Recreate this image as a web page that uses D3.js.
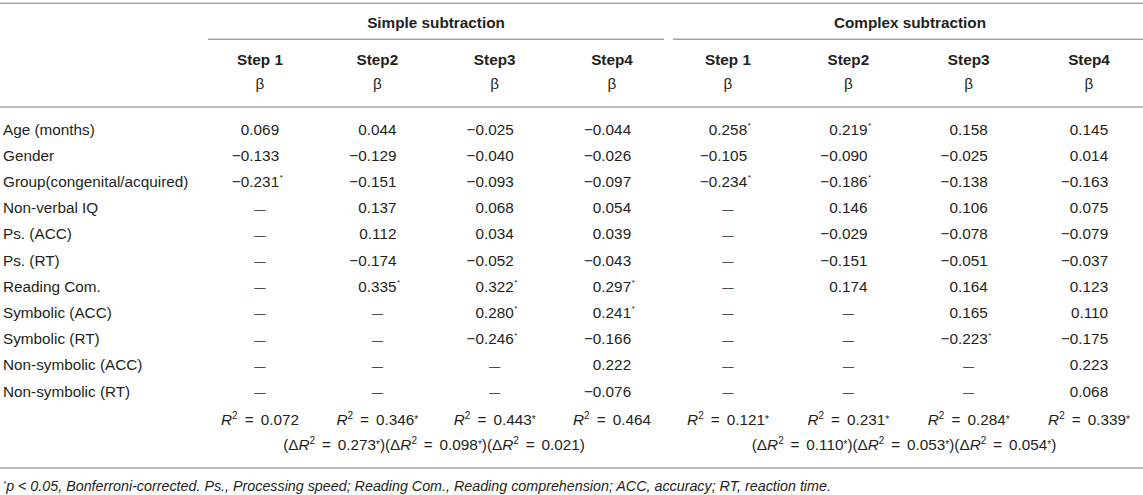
<!DOCTYPE html>
<html>
<head>
<meta charset="utf-8">
<script src="https://cdn.jsdelivr.net/npm/d3@7"></script>
<style>
  html, body { margin: 0; padding: 0; background: #fff; }
  svg { display: block; }
  text { font-family: "Liberation Sans", Arial, Helvetica, sans-serif; fill: #231f20; }
</style>
</head>
<body>
<svg id="t" width="1143" height="495"></svg>
<script>
// ---------- data ----------
const groups = ["Simple subtraction", "Complex subtraction"];
const steps = ["Step 1", "Step2", "Step3", "Step4"];
const coefLabel = "β";
const rowLabels = [
  "Age (months)", "Gender", "Group(congenital/acquired)", "Non-verbal IQ",
  "Ps. (ACC)", "Ps. (RT)", "Reading Com.", "Symbolic (ACC)", "Symbolic (RT)",
  "Non-symbolic (ACC)", "Non-symbolic (RT)"
];
// null = not entered in that step (—)
const simpleBeta = [
  [0.069, 0.044, -0.025, -0.044],
  [-0.133, -0.129, -0.040, -0.026],
  [-0.231, -0.151, -0.093, -0.097],
  [null, 0.137, 0.068, 0.054],
  [null, 0.112, 0.034, 0.039],
  [null, -0.174, -0.052, -0.043],
  [null, 0.335, 0.322, 0.297],
  [null, null, 0.280, 0.241],
  [null, null, -0.246, -0.166],
  [null, null, null, 0.222],
  [null, null, null, -0.076]
];
const simpleSig = [
  [0,0,0,0],[0,0,0,0],[1,0,0,0],[0,0,0,0],[0,0,0,0],[0,0,0,0],
  [0,1,1,1],[0,0,1,1],[0,0,1,0],[0,0,0,0],[0,0,0,0]
];
const complexBeta = [
  [0.258, 0.219, 0.158, 0.145],
  [-0.105, -0.090, -0.025, 0.014],
  [-0.234, -0.186, -0.138, -0.163],
  [null, 0.146, 0.106, 0.075],
  [null, -0.029, -0.078, -0.079],
  [null, -0.151, -0.051, -0.037],
  [null, 0.174, 0.164, 0.123],
  [null, null, 0.165, 0.110],
  [null, null, -0.223, -0.175],
  [null, null, null, 0.223],
  [null, null, null, 0.068]
];
const complexSig = [
  [1,1,0,0],[0,0,0,0],[1,1,0,0],[0,0,0,0],[0,0,0,0],[0,0,0,0],
  [0,0,0,0],[0,0,0,0],[0,0,1,0],[0,0,0,0],[0,0,0,0]
];
const simpleR2 = [0.072, 0.346, 0.443, 0.464];
const simpleR2Sig = [0, 1, 1, 0];
const complexR2 = [0.121, 0.231, 0.284, 0.339];
const complexR2Sig = [1, 1, 1, 1];
const simpleDeltaR2 = [0.273, 0.098, 0.021];
const simpleDeltaSig = [1, 1, 0];
const complexDeltaR2 = [0.110, 0.053, 0.054];
const complexDeltaSig = [1, 1, 1];
const footnote = ", Bonferroni-corrected. Ps., Processing speed; Reading Com., Reading comprehension; ACC, accuracy; RT, reaction time.";

// ---------- layout ----------
const W = 1143, H = 495;
const FS = 15.3;
const svg = d3.select("#t");
const fmt = v => (v < 0 ? "\u2212" : "") + d3.format(".3f")(Math.abs(v));

const xSimple = d3.scalePoint().domain(steps).range([260, 612]);
const xComplex = d3.scalePoint().domain(steps).range([728, 1089]);
const xs = [xSimple, xComplex];
const groupSpan = [[208, 664], [673, W]];
const groupCenter = [436, 910];
const deltaCenter = [434, 904];

const allRows = rowLabels.concat(["R2", "dR2"]);
const y = d3.scalePoint().domain(allRows).range([134.5, 134.5 + 12 * 26.2]);

const lineColor = "#a3a3a3";
function hline(x1, x2, yy) {
  svg.append("line").attr("x1", x1).attr("x2", x2).attr("y1", yy).attr("y2", yy)
    .attr("stroke", lineColor).attr("stroke-width", 1.6);
}
hline(0, W, 3.3);
hline(0, W, 107);
hline(0, W, 468);
groupSpan.forEach(s => hline(s[0], s[1], 39.3));

// group headers
groups.forEach((g, i) => {
  svg.append("text").attr("x", groupCenter[i]).attr("y", 28)
    .attr("text-anchor", "middle").attr("font-size", FS).attr("font-weight", "bold").text(g);
  steps.forEach(s => {
    svg.append("text").attr("x", xs[i](s)).attr("y", 64.5)
      .attr("text-anchor", "middle").attr("font-size", FS).attr("font-weight", "bold").text(s);
    svg.append("text").attr("x", xs[i](s)).attr("y", 89)
      .attr("text-anchor", "middle").attr("font-size", FS).text(coefLabel);
  });
});

// row labels
rowLabels.forEach(r => {
  svg.append("text").attr("x", 3).attr("y", y(r)).attr("font-size", FS).text(r);
});

// measure half width of a positive value
const tmp = svg.append("text").attr("font-size", FS).text("0.000");
const hw = tmp.node().getComputedTextLength() / 2;
tmp.remove();

const betas = [simpleBeta, complexBeta];
const sigs = [simpleSig, complexSig];
betas.forEach((tbl, gi) => {
  tbl.forEach((row, ri) => {
    row.forEach((v, ci) => {
      const cx = xs[gi](steps[ci]);
      const yy = y(rowLabels[ri]);
      if (v === null) {
        svg.append("text").attr("x", cx).attr("y", yy - 0.5).attr("text-anchor", "middle")
          .attr("font-size", FS * 0.74).text("\u2014");
      } else {
        svg.append("text").attr("x", cx + hw).attr("y", yy).attr("text-anchor", "end")
          .attr("font-size", FS).text(fmt(v));
        if (sigs[gi][ri][ci]) {
          svg.append("text").attr("x", cx + hw + 0.5).attr("y", yy - 6.5)
            .attr("font-size", 8).text("*");
        }
      }
    });
  });
});

// R² row
const r2s = [simpleR2, complexR2], r2sig = [simpleR2Sig, complexR2Sig];
const yR2 = y("R2") + 2;
r2s.forEach((vals, gi) => {
  vals.forEach((v, ci) => {
    const t = svg.append("text").attr("x", xs[gi](steps[ci])).attr("y", yR2)
      .attr("text-anchor", "middle").attr("font-size", FS).attr("word-spacing", 2.8);
    t.append("tspan").attr("font-style", "italic").text("R");
    t.append("tspan").attr("font-size", 10).attr("dy", -6).text("2");
    t.append("tspan").attr("dy", 6).text(" = " + d3.format(".3f")(v));
    if (r2sig[gi][ci]) t.append("tspan").attr("font-size", 10).attr("dy", -2).text("*");
  });
});

// ΔR² row
const drs = [simpleDeltaR2, complexDeltaR2], drsig = [simpleDeltaSig, complexDeltaSig];
drs.forEach((vals, gi) => {
  const t = svg.append("text").attr("x", deltaCenter[gi]).attr("y", y("dR2") + 1)
    .attr("text-anchor", "middle").attr("font-size", FS).attr("word-spacing", 2.6);
  vals.forEach((v, k) => {
    t.append("tspan").text("(\u0394");
    t.append("tspan").attr("font-style", "italic").text("R");
    t.append("tspan").attr("font-size", 10).attr("dy", -6).text("2");
    t.append("tspan").attr("dy", 6).text(" = " + d3.format(".3f")(v));
    if (drsig[gi][k]) {
      t.append("tspan").attr("font-size", 10).attr("dy", -2).text("*");
      t.append("tspan").attr("dy", 2).text(")");
    } else {
      t.append("tspan").text(")");
    }
  });
});

// footnote
const fn = svg.append("text").attr("x", 3).attr("y", 491).attr("font-size", 14.3).attr("font-style", "italic");
fn.append("tspan").attr("font-size", 8).attr("dy", -5).text("*");
fn.append("tspan").attr("dy", 5).text("p < 0.05");
fn.append("tspan").text(footnote);
</script>
</body>
</html>
